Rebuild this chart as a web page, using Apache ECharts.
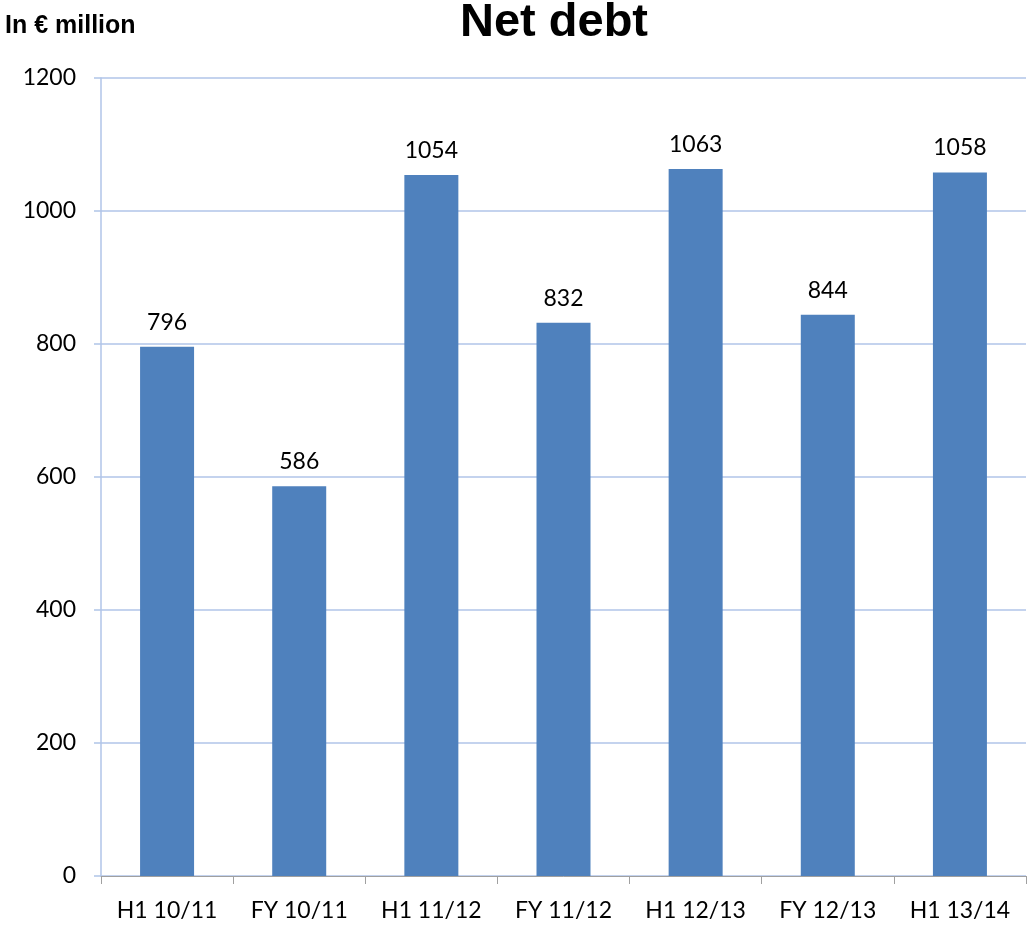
<!DOCTYPE html>
<html>
<head>
<meta charset="utf-8">
<script src="https://cdn.jsdelivr.net/npm/echarts@6/dist/echarts.min.js"></script>
<style>
html,body{margin:0;padding:0;background:#fff;}
#chart{width:1028px;height:930px;}
</style>
</head>
<body>
<div id="chart"></div>
<script>
// Net debt per reporting period, in € million
const categories = ['H1 10/11', 'FY 10/11', 'H1 11/12', 'FY 11/12', 'H1 12/13', 'FY 12/13', 'H1 13/14'];
const netDebt = [796, 586, 1054, 832, 1063, 844, 1058];

const chart = echarts.init(document.getElementById('chart'));
const font = 'Lato, "Open Sans", sans-serif';
const gridBlue = '#b0c5e8';
chart.setOption({
  animation: false,
  title: [
    { text: 'Net debt', left: 549, top: -5, textAlign: 'center',
      textStyle: { fontFamily: 'Liberation Sans, Arial, sans-serif', fontWeight: 'bold', fontSize: 47, color: '#000' } },
    { text: 'In € million', left: 0, top: 9,
      textStyle: { fontFamily: 'Liberation Sans, Arial, sans-serif', fontWeight: 'bold', fontSize: 25, color: '#000' } }
  ],
  grid: { left: 101, right: 2, top: 78, bottom: 54, containLabel: false },
  xAxis: {
    type: 'category', data: categories,
    axisLine: { lineStyle: { color: '#a0a0a0', width: 1 } },
    axisTick: { show: true, length: 8, lineStyle: { color: '#a0a0a0' } },
    axisLabel: { fontFamily: font, fontSize: 23, color: '#000', margin: 23 }
  },
  yAxis: {
    type: 'value', min: 0, max: 1200, interval: 200,
    axisLine: { show: true, lineStyle: { color: gridBlue, width: 1.5 } },
    axisTick: { show: true, length: 7, lineStyle: { color: gridBlue, width: 1.5 } },
    axisLabel: { fontFamily: font, fontSize: 23, color: '#000', margin: 25, formatter: v => String(v) },
    splitLine: { lineStyle: { color: gridBlue, width: 1.5 } }
  },
  series: [{
    type: 'bar', data: netDebt, barWidth: 54,
    itemStyle: { color: '#4f81bd' },
    label: { show: true, position: 'top', distance: 13, fontFamily: font, fontSize: 23, color: '#000' }
  }]
});
</script>
</body>
</html>
